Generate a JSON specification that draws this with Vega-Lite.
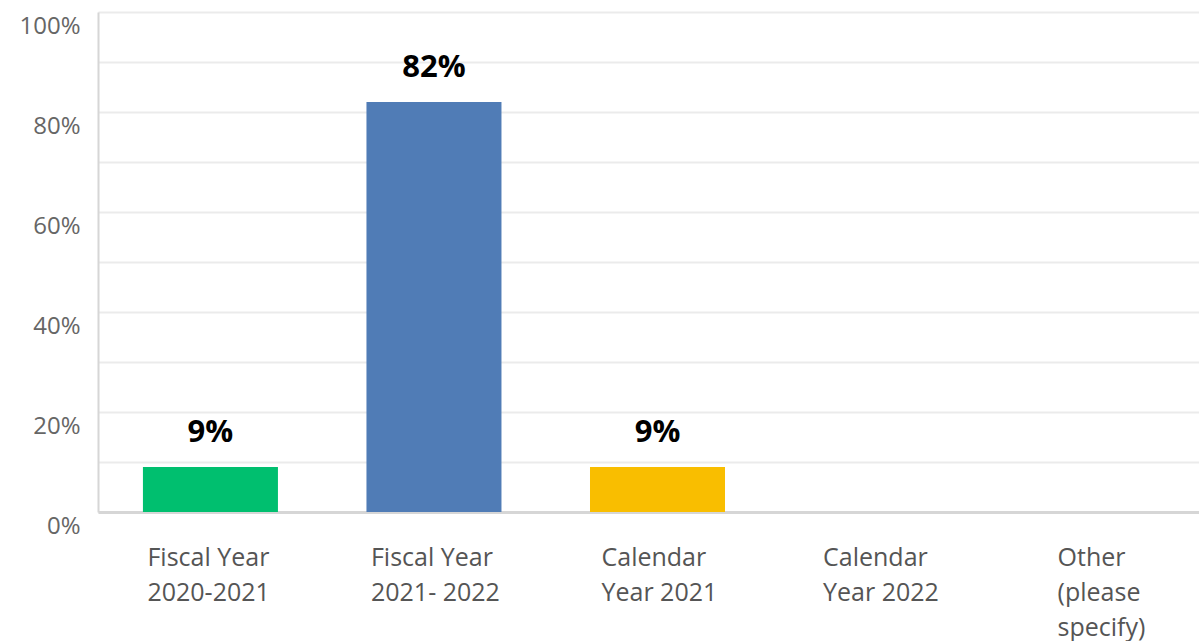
{
  "$schema": "https://vega.github.io/schema/vega-lite/v6.json",
  "autosize": "none",
  "width": 1119,
  "height": 500,
  "padding": {"left": 98, "top": 12, "right": 0, "bottom": 129},
  "background": "white",
  "config": {"view": {"stroke": null}, "font": "Open Sans"},
  "data": {
    "values": [
      {"category": "Fiscal Year|2020-2021", "value": 0.09, "color": "#00BF6F"},
      {"category": "Fiscal Year|2021- 2022", "value": 0.82, "color": "#507CB6"},
      {"category": "Calendar|Year 2021", "value": 0.09, "color": "#F9BE00"},
      {"category": "Calendar|Year 2022", "value": 0, "color": "#999999"},
      {"category": "Other|(please|specify)", "value": 0, "color": "#999999"}
    ]
  },
  "encoding": {
    "x": {
      "field": "category",
      "type": "nominal",
      "sort": null,
      "scale": {"paddingInner": 0.396, "paddingOuter": 0.201},
      "axis": {
        "title": null,
        "labelAngle": 0,
        "labelExpr": "split(datum.label, '|')",
        "labelFontSize": 25,
        "labelColor": "#555555",
        "labelLineHeight": 35,
        "labelPadding": 33,
        "labelBaseline": "top",
        "labelAlign": "left",
        "labelOffset": {
          "condition": [
            {"test": "datum.value == 'Fiscal Year|2020-2021'", "value": -63},
            {"test": "datum.value == 'Fiscal Year|2021- 2022'", "value": -63},
            {"test": "datum.value == 'Calendar|Year 2021'", "value": -56},
            {"test": "datum.value == 'Calendar|Year 2022'", "value": -58}
          ],
          "value": -47
        },
        "ticks": false,
        "domainColor": "#d6d6d6",
        "domainWidth": 3,
        "grid": false
      }
    },
    "y": {
      "field": "value",
      "type": "quantitative",
      "scale": {"domain": [0, 1]},
      "axis": {
        "title": null,
        "values": [0, 0.1, 0.2, 0.3, 0.4, 0.5, 0.6, 0.7, 0.8, 0.9, 1],
        "labelExpr": "round(datum.value * 10) % 2 == 0 ? format(datum.value, '.0%') : ''",
        "labelFontSize": 24,
        "labelColor": "#666666",
        "labelBaseline": "top",
        "labelPadding": 18,
        "labelOffset": 2,
        "ticks": false,
        "domainColor": "#d6d6d6",
        "domainWidth": 2,
        "gridColor": "#ebebeb",
        "gridWidth": 2
      }
    }
  },
  "layer": [
    {
      "mark": {"type": "bar"},
      "encoding": {
        "color": {"field": "color", "type": "nominal", "scale": null}
      }
    },
    {
      "transform": [{"filter": "datum.value > 0"}],
      "mark": {
        "type": "text",
        "baseline": "alphabetic",
        "dy": -25,
        "fontSize": 31,
        "fontWeight": "bold",
        "color": "#000000"
      },
      "encoding": {
        "text": {"field": "value", "type": "quantitative", "format": ".0%"}
      }
    }
  ]
}
